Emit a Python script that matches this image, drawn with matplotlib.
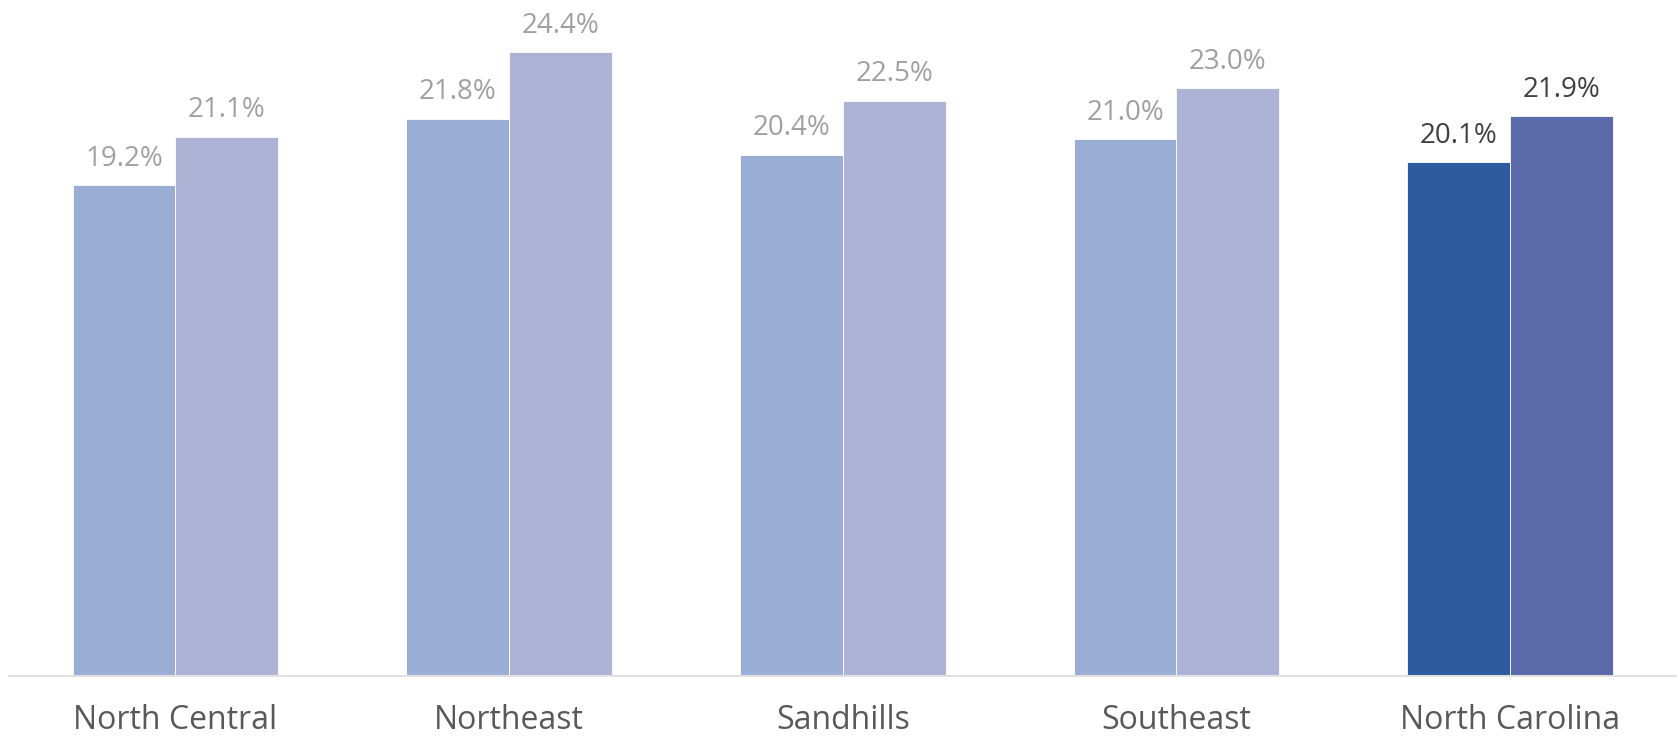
import numpy as np
import matplotlib
matplotlib.use("Agg")
import matplotlib.pyplot as plt

# Datos
regiones = ["North Central", "Northeast", "Sandhills", "Southeast", "North Carolina"]
serie_a = [19.2, 21.8, 20.4, 21.0, 20.1]
serie_b = [21.1, 24.4, 22.5, 23.0, 21.9]

# Colores: regiones claras, North Carolina resaltado
col_a = ["#9aadd4"] * 4 + ["#2e5ba0"]
col_b = ["#adb3d4"] * 4 + ["#5a69a8"]
col_txt = ["#a0a0a0"] * 4 + ["#404040"]

plt.rcParams["font.family"] = ["Open Sans", "DejaVu Sans"]

fig = plt.figure(figsize=(16.77, 7.4), dpi=100)
ax = fig.add_axes([8 / 1568, 1 - 632 / 692, 1 - 8 / 1568, 632 / 692])

x = np.arange(len(regiones))
w = 0.308
bars_a = ax.bar(x - w / 2, serie_a, width=w, color=col_a, edgecolor="white", linewidth=0.6)
bars_b = ax.bar(x + w / 2, serie_b, width=w, color=col_b, edgecolor="white", linewidth=0.6)

for bars, vals in [(bars_a, serie_a), (bars_b, serie_b)]:
    for b, v, c in zip(bars, vals, col_txt):
        ax.annotate(f"{v:.1f}%", (b.get_x() + b.get_width() / 2, v),
                    xytext=(0, 9), textcoords="offset points",
                    ha="center", va="bottom", fontsize=20, color=c)

ax.set_xlim(-0.5, 4.5)
ax.set_ylim(0, 26.45)
ax.set_xticks(x)
ax.set_xticklabels(regiones, fontsize=23, color="#595959")
ax.tick_params(axis="x", length=0, pad=20)
ax.set_yticks([])
for s in ["top", "right", "left"]:
    ax.spines[s].set_visible(False)
ax.spines["bottom"].set_color("#e0e0e0")
ax.spines["bottom"].set_linewidth(1.5)

fig.savefig("out.png", dpi=100)
